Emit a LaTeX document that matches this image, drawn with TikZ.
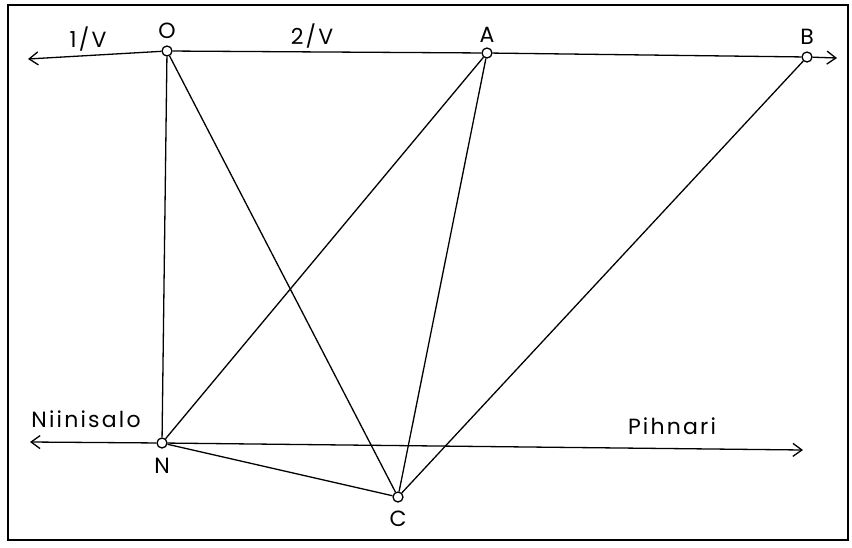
\documentclass[tikz,border=0pt]{standalone}
\usepackage{fontspec}
\setmainfont[LetterSpace=10]{Poppins}
\usetikzlibrary{arrows.meta, positioning}

\begin{document}
\begin{tikzpicture}[
    x=1pt, y=-1pt,
    station/.style={circle, draw, fill=white, inner sep=0pt, minimum size=10pt, line width=1.3pt},
    link/.style={line width=1.3pt},
    arrow/.style={-{Straight Barb[length=9pt, width=13pt]}, line width=1.3pt},
    lbl/.style={font=\fontsize{22}{26}\selectfont, inner sep=0pt},
]
\useasboundingbox (0,0) rectangle (852,547);

% Frame
\draw[line width=1.8pt] (8,5) rectangle (848,540);

% Stations
\node[station] (O) at (167,51) {};
\node[station] (A) at (487,53) {};
\node[station] (B) at (807,57) {};
\node[station] (N) at (162,443) {};
\node[station] (C) at (398,497) {};

% Free ends of the two axes
\coordinate (west1) at (28,59);
\coordinate (east1) at (837,58);
\coordinate (west2) at (30,442);
\coordinate (east2) at (803,450);

% Axes
\draw[arrow] (O) -- (west1);
\draw[link] (O) -- (A) -- (B);
\draw[arrow] (B) -- (east1);
\draw[arrow] (N) -- (west2);
\draw[arrow] (N) -- (east2);

% Connections
\draw[link] (O) -- (N);
\draw[link] (O) -- (C);
\draw[link] (A) -- (N);
\draw[link] (A) -- (C);
\draw[link] (B) -- (C);
\draw[link] (N) -- (C);

% Labels
\node[lbl] (lO) at (167,31) {O};
\node[lbl] (lA) at (487,35) {A};
\node[lbl] (lB) at (807,37) {B};
\node[lbl] (lN) at (162,466) {N};
\node[lbl] (lC) at (398,519) {C};
\node[lbl] (v1) at (88,39) {1/V};
\node[lbl] (v2) at (312,36) {2/V};
\node[lbl] (niinisalo) at (86,419) {Niinisalo};
\node[lbl] (pihnari) at (672,426) {Pihnari};

\end{tikzpicture}
\end{document}
